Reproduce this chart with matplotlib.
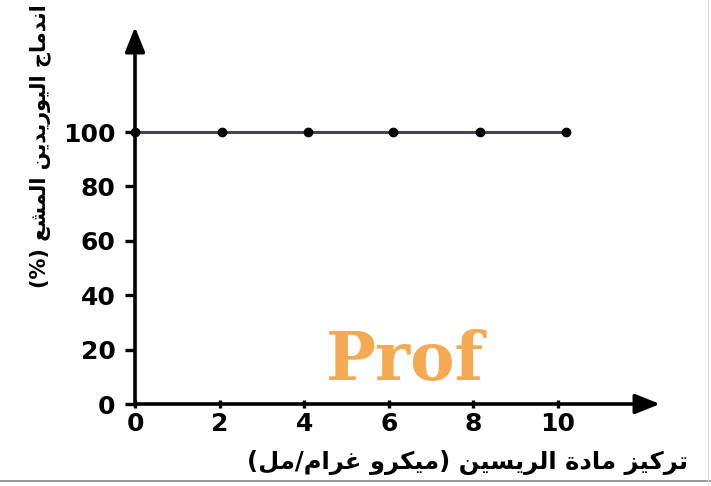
import matplotlib
matplotlib.use("Agg")
import matplotlib.pyplot as plt
from matplotlib.lines import Line2D

# ---- data -------------------------------------------------------------
concentration = [0, 2.05, 4.1, 6.1, 8.15, 10.2]   # ricin, µg/mL
uridine = [100, 100, 100, 100, 100, 100]         # radioactive uridine incorporated, %
x_ticks = [0, 2, 4, 6, 8, 10]
y_ticks = [0, 20, 40, 60, 80, 100]

y_title = "اندماج اليوريدين المشع (%)"
x_title = "تركيز مادة الريسين (ميكرو غرام/مل)"

# ---- minimal Arabic shaping (presentation forms + RTL ordering) ------
DUAL = {'ب': 0xFE8F, 'ت': 0xFE95, 'ج': 0xFE9D, 'س': 0xFEB1, 'ش': 0xFEB5,
        'ع': 0xFEC9, 'غ': 0xFECD, 'ك': 0xFED9, 'ل': 0xFEDD, 'م': 0xFEE1,
        'ن': 0xFEE5, 'ي': 0xFEF1, 'ه': 0xFEE9}
RIGHT = {'ا': 0xFE8D, 'د': 0xFEA9, 'ر': 0xFEAD, 'ز': 0xFEAF, 'و': 0xFEED,
         'ة': 0xFE93}


def shape(text):
    out = []
    for i, c in enumerate(text):
        if c in DUAL or c in RIGHT:
            prev = text[i - 1] if i > 0 else ''
            nxt = text[i + 1] if i + 1 < len(text) else ''
            jp = prev in DUAL
            jn = c in DUAL and (nxt in DUAL or nxt in RIGHT)
            if c in DUAL:
                idx = 3 if (jp and jn) else 1 if jp else 2 if jn else 0
                out.append(chr(DUAL[c] + idx))
            else:
                out.append(chr(RIGHT[c] + (1 if jp else 0)))
        else:
            out.append(c)
    vis = ''.join(out)[::-1]
    return vis.translate(str.maketrans({'(': ')', ')': '('}))


# ---- figure -----------------------------------------------------------
W, H = 711, 486
fig = plt.figure(figsize=(W / 100, H / 100), dpi=100)
fig.patch.set_facecolor('white')

x0, y0 = 135, 404          # origin in pixels
x_end, y_top = 660, 27     # arrow tips in pixels
ax = fig.add_axes([x0 / W, 1 - y0 / H, (x_end - x0) / W, (y0 - y_top) / H])
ax.set_xlim(0, (x_end - x0) / 42.3)
ax.set_ylim(0, (y0 - y_top) / 2.72)
ax.set_facecolor('none')

for s in ax.spines.values():
    s.set_visible(False)

# axes drawn as arrows
arrow = dict(arrowstyle='-|>,head_length=0.75,head_width=0.3', lw=2.6,
             color='black', shrinkA=0, shrinkB=0, mutation_scale=20)
ax.annotate('', xy=(1, 0), xytext=(0, 0), xycoords='axes fraction',
            arrowprops=arrow, annotation_clip=False)
ax.annotate('', xy=(0, 1), xytext=(0, 0), xycoords='axes fraction',
            arrowprops=arrow, annotation_clip=False)

ax.plot(concentration, uridine, color='#3c4656', lw=2.2, marker='o',
        markersize=6, markerfacecolor='black', markeredgecolor='black',
        clip_on=False, zorder=5)

ax.set_xticks(x_ticks)
ax.set_yticks(y_ticks)
tick_font = dict(family='DejaVu Sans', weight='bold', size=18)
ax.set_xticklabels([str(v) for v in x_ticks], **tick_font)
ax.set_yticklabels([str(v) for v in y_ticks], **tick_font)
ax.tick_params(axis='x', direction='inout', length=6, width=2.4, pad=3)
ax.tick_params(axis='y', direction='out', length=7, width=2.4, pad=7)

# axis titles
fig.text(688 / W, 1 - 462 / H, shape(x_title), ha='right', va='center',
         family='DejaVu Sans', weight='bold', fontsize=17.5)
fig.text(40 / W, 1 - 288 / H, shape(y_title), ha='center', va='bottom',
         rotation=90, family='DejaVu Sans', weight='bold', fontsize=15)

# faint logo watermark
fig.text(326 / W, 1 - 380 / H, 'Prof', ha='left', va='baseline',
         family='DejaVu Serif', weight='bold', fontsize=48,
         color='#f5a040', alpha=0.9, zorder=0)

# page edges
fig.add_artist(Line2D([0, 1], [1 - 481 / H, 1 - 481 / H],
                      transform=fig.transFigure, color='#888888', lw=1.2))
fig.add_artist(Line2D([708 / W, 708 / W], [0, 1],
                      transform=fig.transFigure, color='#dddddd', lw=0.8))

fig.savefig('out.png', dpi=100)
